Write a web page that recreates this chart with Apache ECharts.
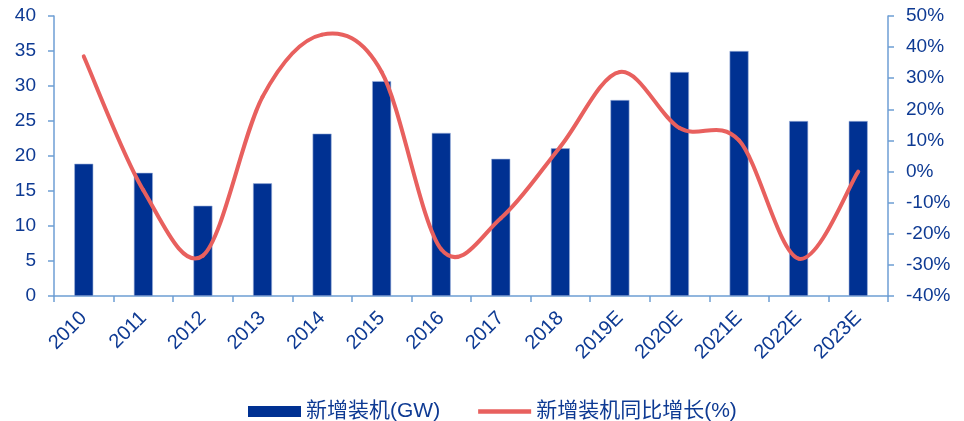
<!DOCTYPE html>
<html>
<head>
<meta charset="utf-8">
<script src="https://cdn.jsdelivr.net/npm/echarts@6/dist/echarts.min.js"></script>
<style>
  html, body { margin: 0; padding: 0; background: #fff; }
  #chart { width: 964px; height: 421px; }
</style>
</head>
<body>
<div id="chart"></div>
<script>
// Annual new installations (GW) and year-on-year growth (%)
const years = ['2010', '2011', '2012', '2013', '2014', '2015', '2016', '2017', '2018',
               '2019E', '2020E', '2021E', '2022E', '2023E'];
const newInstall = [18.9, 17.6, 12.9, 16.1, 23.2, 30.7, 23.3, 19.6, 21.1, 28, 32, 35, 25, 25];
const yoyGrowth = [37, -6, -27, 24, 44, 32, -25, -15, 8, 32, 14, 10, -28, 0];

const leftTicks = { min: 0, max: 40, interval: 5 };
const rightTicks = { min: -40, max: 50, interval: 10 };

const textColor = '#0E3A93';
const axisColor = '#6E9ED4';
const barColor = '#003192';
const lineColor = '#E8605E';
const fontFamily = '"Liberation Sans", Arial, "Noto Sans CJK SC", sans-serif';

// Growth curve: Catmull-Rom style cubic segments through the points,
// positioned with the chart's own coordinate conversion.
function renderGrowthCurve(params, api) {
  if (params.dataIndex !== 0) return null;
  const pts = yoyGrowth.map((v, i) => api.coord([i, v]));
  const n = pts.length;
  const children = [];
  const tangent = (i) => {
    const a = pts[Math.max(i - 1, 0)];
    const b = pts[Math.min(i + 1, n - 1)];
    return [(b[0] - a[0]) / 6, (b[1] - a[1]) / 6];
  };
  for (let i = 0; i < n - 1; i++) {
    const p0 = pts[i], p1 = pts[i + 1];
    const t0 = tangent(i), t1 = tangent(i + 1);
    children.push({
      type: 'bezierCurve',
      shape: {
        x1: p0[0], y1: p0[1],
        cpx1: p0[0] + t0[0], cpy1: p0[1] + t0[1],
        cpx2: p1[0] - t1[0], cpy2: p1[1] - t1[1],
        x2: p1[0], y2: p1[1]
      },
      style: { stroke: lineColor, lineWidth: 4, lineCap: 'round', fill: null }
    });
  }
  return { type: 'group', children: children };
}

const chart = echarts.init(document.getElementById('chart'));
chart.setOption({
  animation: false,
  textStyle: { fontFamily: fontFamily },
  grid: { left: 54, right: 76, top: 16, bottom: 125 },
  legend: {
    top: 396,
    left: 243,
    itemGap: 38,
    itemWidth: 53,
    itemHeight: 11,
    textStyle: { color: textColor, fontSize: 21, fontFamily: fontFamily },
    data: [
      { name: '新增装机(GW)', icon: 'rect', itemStyle: { color: barColor, borderWidth: 0 } },
      { name: '新增装机同比增长(%)', icon: 'path://M0,0 L53,0 L53,4.5 L0,4.5 Z', itemStyle: { color: lineColor, borderWidth: 0 } }
    ]
  },
  xAxis: {
    type: 'category',
    data: years,
    boundaryGap: true,
    axisLine: { lineStyle: { color: axisColor, width: 1.5 } },
    axisTick: { show: true, length: 6, lineStyle: { color: axisColor, width: 1.5 } },
    axisLabel: { rotate: 45, color: textColor, fontSize: 20, margin: 19, interval: 0 }
  },
  yAxis: [
    {
      type: 'value',
      min: leftTicks.min, max: leftTicks.max, interval: leftTicks.interval,
      axisLine: { show: true, lineStyle: { color: axisColor, width: 1.5 } },
      axisTick: { show: true, length: 6, lineStyle: { color: axisColor, width: 1.5 } },
      splitLine: { show: false },
      axisLabel: { color: textColor, fontSize: 19, margin: 18 }
    },
    {
      type: 'value',
      min: rightTicks.min, max: rightTicks.max, interval: rightTicks.interval,
      position: 'right',
      axisLine: { show: true, lineStyle: { color: axisColor, width: 1.5 } },
      axisTick: { show: true, length: 6, lineStyle: { color: axisColor, width: 1.5 } },
      splitLine: { show: false },
      axisLabel: { color: textColor, fontSize: 19, margin: 18, formatter: '{value}%' }
    }
  ],
  series: [
    {
      name: '新增装机(GW)',
      type: 'bar',
      data: newInstall,
      barWidth: 19,
      z: 2,
      itemStyle: { color: barColor, borderColor: '#9DB3DC', borderWidth: 0.6 }
    },
    {
      name: '新增装机同比增长(%)',
      type: 'custom',
      yAxisIndex: 1,
      clip: false,
      z: 5,
      data: yoyGrowth.map((v, i) => [i, v]),
      encode: { x: 0, y: 1 },
      itemStyle: { color: lineColor },
      renderItem: renderGrowthCurve
    }
  ]
});
</script>
</body>
</html>
